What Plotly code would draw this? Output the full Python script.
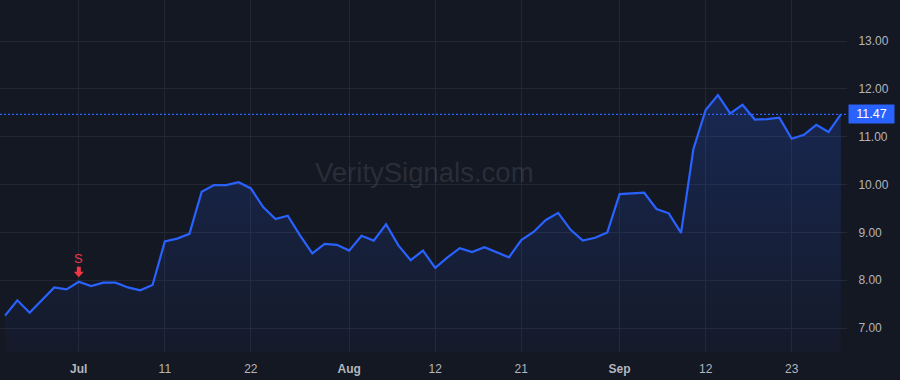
import plotly.graph_objects as go

dates = [
    "2024-06-21", "2024-06-24", "2024-06-25", "2024-06-26", "2024-06-27", "2024-06-28",
    "2024-07-01", "2024-07-02", "2024-07-03", "2024-07-05",
    "2024-07-08", "2024-07-09", "2024-07-10", "2024-07-11", "2024-07-12",
    "2024-07-15", "2024-07-16", "2024-07-17", "2024-07-18", "2024-07-19",
    "2024-07-22", "2024-07-23", "2024-07-24", "2024-07-25", "2024-07-26",
    "2024-07-29", "2024-07-30", "2024-07-31", "2024-08-01", "2024-08-02",
    "2024-08-05", "2024-08-06", "2024-08-07", "2024-08-08", "2024-08-09",
    "2024-08-12", "2024-08-13", "2024-08-14", "2024-08-15", "2024-08-16",
    "2024-08-19", "2024-08-20", "2024-08-21", "2024-08-22", "2024-08-23",
    "2024-08-26", "2024-08-27", "2024-08-28", "2024-08-29", "2024-08-30",
    "2024-09-03", "2024-09-04", "2024-09-05", "2024-09-06",
    "2024-09-09", "2024-09-10", "2024-09-11", "2024-09-12", "2024-09-13",
    "2024-09-16", "2024-09-17", "2024-09-18", "2024-09-19", "2024-09-20",
    "2024-09-23", "2024-09-24", "2024-09-25", "2024-09-26", "2024-09-27",
]
prices = [
    7.26, 7.58, 7.32, 7.58, 7.85, 7.81,
    7.97, 7.88, 7.95, 7.95,
    7.85, 7.79, 7.90, 8.81, 8.87,
    8.97, 9.85, 9.99, 9.99, 10.05,
    9.92, 9.53, 9.28, 9.35, 8.94,
    8.56, 8.76, 8.74, 8.62, 8.93,
    8.83, 9.17, 8.73, 8.42, 8.62,
    8.26, 8.48, 8.67, 8.59, 8.69,
    8.58, 8.48, 8.84, 9.01, 9.26,
    9.41, 9.06, 8.83, 8.89, 9.00,
    9.80, 9.81, 9.83, 9.49,
    9.40, 8.99, 10.74, 11.56, 11.87,
    11.49, 11.67, 11.36, 11.37, 11.40,
    10.96, 11.04, 11.25, 11.10, 11.47,
]
tick_dates = ["2024-07-01", "2024-07-11", "2024-07-22", "2024-08-01", "2024-08-12",
              "2024-08-21", "2024-09-03", "2024-09-12", "2024-09-23"]
tick_labels = ["<b>Jul</b>", "11", "22", "<b>Aug</b>", "12", "21", "<b>Sep</b>", "12", "23"]
y_ticks = [7, 8, 9, 10, 11, 12, 13]
y_tick_labels = ["7.00", "8.00", "9.00", "10.00", "11.00", "12.00", "13.00"]
last_price = 11.47
signal_date = "2024-07-01"
signal_price = 7.97
signal_label = "S"
watermark = "VeritySignals.com"

BG = "#141823"
GRID = "#232733"
TXT = "#B2B5BE"
BLUE = "#2962FF"
RED = "#F23645"
FONT = "Liberation Sans, Arial, sans-serif"

fig = go.Figure()
fig.add_trace(go.Scatter(
    x=dates, y=prices, mode="lines",
    line=dict(color=BLUE, width=2.2),
    fill="tozeroy",
    fillgradient=dict(type="vertical", start=6.5, stop=12.0,
                      colorscale=[[0, "rgba(41,98,255,0.03)"], [1, "rgba(41,98,255,0.22)"]]),
    hoverinfo="skip", showlegend=False,
))

fig.add_shape(type="line", xref="paper", x0=0, x1=1, yref="y", y0=last_price, y1=last_price,
              line=dict(color=BLUE, width=1.3, dash="2px,2px"), layer="above")

fig.add_annotation(xref="paper", x=1, xanchor="left", xshift=1, yref="y", y=last_price,
                   text=f"{last_price:.2f}", showarrow=False,
                   font=dict(color="#FFFFFF", size=12.5, family=FONT),
                   bgcolor=BLUE, borderpad=2, width=41, align="center")

# down arrow marker (pixel-sized, anchored at the signal point)
fig.add_shape(type="path", xref="x", yref="y",
              xsizemode="pixel", ysizemode="pixel",
              xanchor=signal_date, yanchor=signal_price,
              path="M -2,15 L 2,15 L 2,10 L 5,10 L 0,4.5 L -5,10 L -2,10 Z",
              fillcolor=RED, line=dict(width=0), layer="above")
fig.add_annotation(x=signal_date, y=signal_price, text=signal_label, showarrow=False,
                   yshift=23, font=dict(color=RED, size=13, family=FONT))

fig.add_annotation(xref="paper", yref="paper", x=424 / 847, y=1 - 172 / 352,
                   text=watermark, showarrow=False,
                   font=dict(color="rgba(120,123,134,0.24)", size=27.5, family=FONT))

fig.update_layout(
    width=900, height=380,
    margin=dict(l=0, r=53, t=0, b=28),
    paper_bgcolor=BG, plot_bgcolor=BG,
    font=dict(family=FONT, color=TXT, size=12),
    xaxis=dict(type="category", range=[-0.41, 68.5],
               tickvals=tick_dates, ticktext=tick_labels,
               showgrid=True, gridcolor=GRID, gridwidth=1,
               zeroline=False, showline=False,
               ticks="outside", ticklen=6, tickcolor="rgba(0,0,0,0)",
               tickfont=dict(color=TXT, size=12)),
    yaxis=dict(side="right", range=[6.5, 13.86],
               tickvals=y_ticks, ticktext=y_tick_labels,
               showgrid=True, gridcolor=GRID, gridwidth=1,
               zeroline=False, showline=False,
               ticks="outside", ticklen=8, tickcolor="rgba(0,0,0,0)",
               tickfont=dict(color=TXT, size=12)),
)

fig.write_html("out.html")
